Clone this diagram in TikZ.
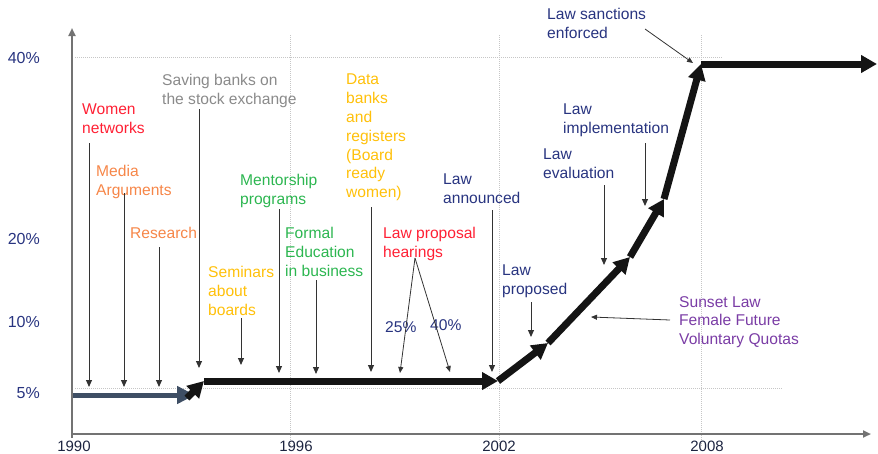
\documentclass[tikz,border=0pt]{standalone}
\usepackage{fontspec}
\setmainfont{Liberation Sans}
\usetikzlibrary{arrows.meta}
\definecolor{netred}{RGB}{255,32,52}
\definecolor{argorange}{RGB}{246,134,72}
\definecolor{bankgray}{RGB}{138,138,138}
\definecolor{mentgreen}{RGB}{44,182,80}
\definecolor{datayellow}{RGB}{255,192,10}
\definecolor{lawblue}{RGB}{40,52,128}
\definecolor{sunpurple}{RGB}{122,60,165}
\definecolor{yearblue}{RGB}{28,36,64}
\definecolor{stepblue}{RGB}{62,78,100}
\begin{document}
\begin{tikzpicture}
	[x=1pt,y=-1pt,
	every node/.style={inner sep=0pt,font=\fontsize{15.6}{18.8}\selectfont},
	lbl/.style={anchor=north west,align=left},
	ylbl/.style={anchor=base east,text=lawblue,font=\fontsize{16}{19}\selectfont},
	xlbl/.style={anchor=base,text=yearblue,font=\fontsize{15}{18}\selectfont},
	gridln/.style={draw=gray!45,densely dotted,line width=1pt},
	axis/.style={draw=black!55,line width=2pt,-{Triangle[length=8pt,width=7pt]}},
	pin/.style={draw=black!80,line width=1pt,-{Triangle[length=7pt,width=6pt]}},
	thinpin/.style={draw=black!80,line width=0.8pt,-{Triangle[length=6pt,width=5pt]}},
	stage/.style={draw=black!92,line width=7pt,-{Triangle[length=16pt,width=17pt]}},
	early/.style={draw=stepblue,line width=5pt,-{Triangle[length=18pt,width=17pt]}}
	]
	\useasboundingbox (0,0) rectangle (878,453);
	\draw[gridln] (75,57) -- (722,57);
	\draw[gridln] (75,388) -- (783,388);
	\foreach \x in {290,499,701}
		\draw[gridln] (\x,35) -- (\x,447);
	\coordinate (o) at (72,434);
	\coordinate (ytop) at (72,28);
	\coordinate (xend) at (871,434);
	\draw[axis] (72,438) -- (ytop);
	\draw[axis] (o) -- (xend);
	\node[ylbl] (y40) at (40,63) {40\%};
	\node[ylbl] (y20) at (40,244) {20\%};
	\node[ylbl] (y10) at (40,327) {10\%};
	\node[ylbl] (y5) at (40,398) {5\%};
	\node[xlbl] (t1990) at (74,451) {1990};
	\node[xlbl] (t1996) at (296,451) {1996};
	\node[xlbl] (t2002) at (499,451) {2002};
	\node[xlbl] (t2008) at (707,451) {2008};
	\coordinate (s0) at (73,395);
	\coordinate (s1) at (195,395);
	\coordinate (p0) at (187,398);
	\coordinate (p1) at (204,381);
	\coordinate (p2) at (498,381);
	\coordinate (p3) at (548,343);
	\coordinate (p4) at (630,257);
	\coordinate (p5) at (664,199);
	\coordinate (p6) at (701,64);
	\coordinate (p7) at (877,64);
	\draw[early] (s0) -- (s1);
	\draw[stage] (p0) -- (p1);
	\draw[stage] (p1) -- (p2);
	\draw[stage] (p2) -- (p3);
	\draw[stage] (p3) -- (p4);
	\draw[stage] (p4) -- (p5);
	\draw[stage] (p5) -- (p6);
	\draw[stage] (p6) -- (p7);
	\node[lbl,text=netred] (wn) at (82,104) {Women\\networks};
	\node[lbl,text=argorange] (ma) at (96,165) {Media\\Arguments};
	\node[lbl,text=argorange] (rs) at (130,227) {Research};
	\node[lbl,text=bankgray] (sb) at (162,74) {Saving banks on\\the stock exchange};
	\node[lbl,text=datayellow] (sm) at (208,266) {Seminars\\about\\boards};
	\node[lbl,text=mentgreen] (mp) at (240,174) {Mentorship\\programs};
	\node[lbl,text=mentgreen] (fe) at (285,227) {Formal\\Education\\in business};
	\node[lbl,text=datayellow] (db) at (346,74) {Data\\banks\\and\\registers\\(Board\\ready\\women)};
	\node[lbl,text=netred] (lh) at (383,227) {Law proposal\\hearings};
	\node[lbl,text=lawblue] (q25) at (385,321) {25\%};
	\node[lbl,text=lawblue] (q40) at (430,319) {40\%};
	\node[lbl,text=lawblue] (la) at (443,174) {Law\\announced};
	\node[lbl,text=lawblue] (lp) at (502,265) {Law\\proposed};
	\node[lbl,text=lawblue] (le) at (543,149) {Law\\evaluation};
	\node[lbl,text=lawblue] (li) at (563,104) {Law\\implementation};
	\node[lbl,text=lawblue] (ls) at (547,8) {Law sanctions\\enforced};
	\node[lbl,text=sunpurple] (su) at (679,296) {Sunset Law\\Female Future\\Voluntary Quotas};
	\coordinate (wn-a) at (89,143);
	\coordinate (wn-b) at (89,387);
	\coordinate (ma-a) at (124,193);
	\coordinate (ma-b) at (124,387);
	\coordinate (rs-a) at (159,247);
	\coordinate (rs-b) at (159,387);
	\coordinate (sb-a) at (199,109);
	\coordinate (sb-b) at (199,368);
	\coordinate (sm-a) at (241,318);
	\coordinate (sm-b) at (241,365);
	\coordinate (mp-a) at (279,209);
	\coordinate (mp-b) at (279,373);
	\coordinate (fe-a) at (316,280);
	\coordinate (fe-b) at (316,374);
	\coordinate (db-a) at (371,207);
	\coordinate (db-b) at (371,372);
	\coordinate (lh-a) at (415,258);
	\coordinate (lh-b) at (400,373);
	\coordinate (lh-c) at (450,372);
	\coordinate (la-a) at (492,210);
	\coordinate (la-b) at (492,372);
	\coordinate (lp-a) at (531,302);
	\coordinate (lp-b) at (531,337);
	\coordinate (le-a) at (604,185);
	\coordinate (le-b) at (604,265);
	\coordinate (li-a) at (645,143);
	\coordinate (li-b) at (645,206);
	\coordinate (ls-a) at (645,29);
	\coordinate (ls-b) at (693,63);
	\coordinate (su-a) at (670,320);
	\coordinate (su-b) at (591,317);
	\foreach \n in {wn,ma,rs,sb,sm,mp,fe,db,la,lp,le,li}
		\draw[pin] (\n-a) -- (\n-b);
	\draw[thinpin] (lh-a) -- (lh-b);
	\draw[thinpin] (lh-a) -- (lh-c);
	\draw[thinpin] (ls-a) -- (ls-b);
	\draw[thinpin] (su-a) -- (su-b);
\end{tikzpicture}
\end{document}
